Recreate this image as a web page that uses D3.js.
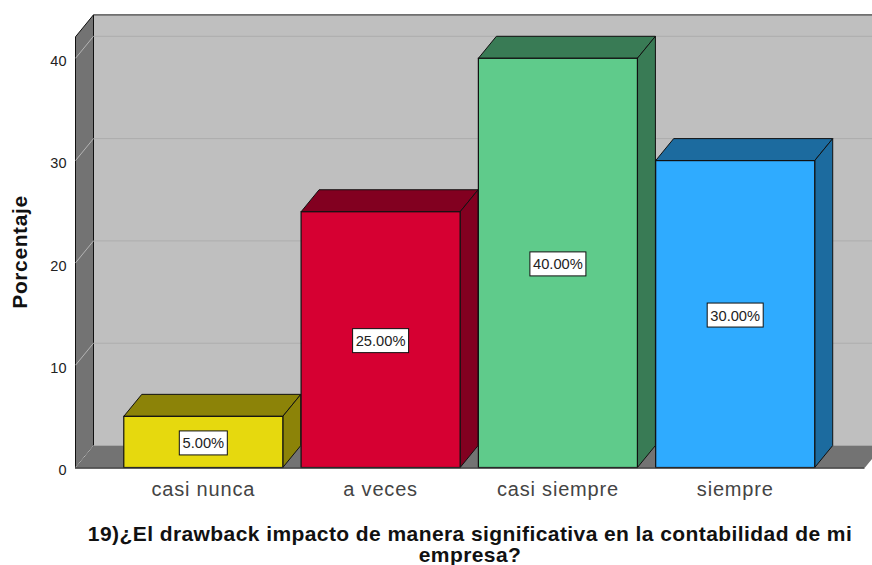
<!DOCTYPE html>
<html>
<head>
<meta charset="utf-8">
<script src="https://cdn.jsdelivr.net/npm/d3@7"></script>
<style>
  html, body { margin: 0; padding: 0; background: #fff; overflow: hidden; }
  svg { display: block; }
  text { font-family: "Liberation Sans", Arial, sans-serif; }
</style>
</head>
<body>
<div id="chart"></div>
<script>
// Values
const categories = ["casi nunca", "a veces", "casi siempre", "siempre"];
const percentages = [5, 25, 40, 30];
const barLabels = ["5.00%", "25.00%", "40.00%", "30.00%"];
const yTicks = [0, 10, 20, 30, 40];
const yTop = 42.1;   // top of the box, in axis units
const xTitle = ["19)¿El drawback impacto de manera significativa en la contabilidad de mi", "empresa?"];
const yTitle = "Porcentaje";

const frontColors = ["#e6d90e", "#d60032", "#5fcb8b", "#2fabff"];
const darkColors = ["#8c8308", "#820020", "#397b55", "#1c6b9f"];

const width = 872, height = 565;
const depthX = 18, depthY = -22;   // 3D offset of the box
const plotLeft = 75.5, plotRight = 865, plotBottom = 467.5;

const svg = d3.select("#chart").append("svg")
  .attr("width", width)
  .attr("height", height);

// bars start a pixel left of where the walls would put them
const xScale = d3.scaleBand()
  .domain(categories)
  .range([plotLeft - 1, plotRight - 1])
  .paddingInner(0.103)
  .paddingOuter(0.278);

const yScale = d3.scaleLinear()
  .domain([0, 40])
  .range([plotBottom, 58.3]);

const poly = pts => pts.map(p => p.join(",")).join(" ");

// Back wall
svg.append("rect")
  .attr("x", plotLeft + depthX)
  .attr("y", yScale(yTop) + depthY)
  .attr("width", plotRight - plotLeft)
  .attr("height", plotBottom - yScale(yTop))
  .attr("fill", "#bfbfbf");

svg.append("line")
  .attr("x1", plotLeft + depthX).attr("x2", width)
  .attr("y1", yScale(yTop) + depthY).attr("y2", yScale(yTop) + depthY)
  .attr("stroke", "#444").attr("stroke-width", 1.2);

// Floor
svg.append("polygon")
  .attr("points", poly([
    [plotLeft, plotBottom], [plotRight, plotBottom],
    [plotRight + depthX, plotBottom + depthY], [plotLeft + depthX, plotBottom + depthY]
  ]))
  .attr("fill", "#737373");

// Left wall
svg.append("polygon")
  .attr("points", poly([
    [plotLeft, plotBottom], [plotLeft, yScale(yTop)],
    [plotLeft + depthX, yScale(yTop) + depthY], [plotLeft + depthX, plotBottom + depthY]
  ]))
  .attr("fill", "#737373")
  .attr("stroke", "#111")
  .attr("stroke-width", 1);

// Grid lines on the back wall and the left wall
const gridTicks = yTicks.filter(d => d > 0);
svg.selectAll(".grid-back").data(gridTicks).enter().append("line")
  .attr("class", "grid-back")
  .attr("x1", plotLeft + depthX).attr("x2", width)
  .attr("y1", d => yScale(d) + depthY).attr("y2", d => yScale(d) + depthY)
  .attr("stroke", "#adadad").attr("stroke-width", 1);

svg.selectAll(".grid-side").data(yTicks).enter().append("line")
  .attr("class", "grid-side")
  .attr("x1", plotLeft).attr("x2", plotLeft + depthX)
  .attr("y1", d => yScale(d)).attr("y2", d => yScale(d) + depthY)
  .attr("stroke", "#b4b4b4").attr("stroke-width", 1);

// Bars, left to right so each one covers the side of the previous one
const bars = svg.selectAll(".bar")
  .data(categories)
  .enter().append("g")
  .attr("class", "bar");

bars.append("polygon")
  .attr("points", (d, i) => {
    const x1 = xScale(d), x2 = x1 + xScale.bandwidth(), y = yScale(percentages[i]);
    return poly([[x1, y], [x2, y], [x2 + depthX, y + depthY], [x1 + depthX, y + depthY]]);
  })
  .attr("fill", (d, i) => darkColors[i])
  .attr("stroke", "#111").attr("stroke-width", 1);

bars.append("polygon")
  .attr("points", (d, i) => {
    const x2 = xScale(d) + xScale.bandwidth(), y = yScale(percentages[i]);
    return poly([[x2, y], [x2 + depthX, y + depthY], [x2 + depthX, plotBottom + depthY], [x2, plotBottom]]);
  })
  .attr("fill", (d, i) => darkColors[i])
  .attr("stroke", "#111").attr("stroke-width", 1);

bars.append("rect")
  .attr("x", d => xScale(d))
  .attr("y", (d, i) => yScale(percentages[i]))
  .attr("width", xScale.bandwidth())
  .attr("height", (d, i) => plotBottom - yScale(percentages[i]))
  .attr("fill", (d, i) => frontColors[i])
  .attr("stroke", "#111").attr("stroke-width", 1.2);

// Value labels sit at the middle of each bar
const labels = svg.selectAll(".value-label")
  .data(categories)
  .enter().append("g")
  .attr("class", "value-label")
  .attr("transform", (d, i) =>
    `translate(${xScale(d) + xScale.bandwidth() / 2},${yScale(percentages[i] / 2) + 1})`);

labels.append("rect")
  .attr("x", (d, i) => i === 0 ? -24 : -28)
  .attr("y", -12)
  .attr("width", (d, i) => i === 0 ? 48 : 56)
  .attr("height", 24)
  .attr("fill", "#fff")
  .attr("stroke", "#111");

labels.append("text")
  .attr("text-anchor", "middle")
  .attr("y", 5.5)
  .attr("font-size", 14.7)
  .attr("fill", "#222")
  .text((d, i) => barLabels[i]);

// Axes
const xAxis = d3.axisBottom(xScale).tickSize(0).tickPadding(14);
const xAxisGroup = svg.append("g")
  .attr("transform", `translate(0,${plotBottom})`)
  .call(xAxis);
xAxisGroup.select(".domain").attr("stroke", "#333").attr("stroke-width", 1.5);
xAxisGroup.selectAll("text")
  .attr("font-size", 20)
  .attr("letter-spacing", 0.8)
  .attr("fill", "#444")
  .style("font-family", "'Liberation Sans', Arial, sans-serif");

const yAxis = d3.axisLeft(yScale).tickValues(yTicks).tickSize(0).tickPadding(9);
const yAxisGroup = svg.append("g")
  .attr("transform", `translate(${plotLeft},0)`)
  .call(yAxis);
yAxisGroup.select(".domain").remove();
yAxisGroup.selectAll("text")
  .attr("font-size", 14.5)
  .attr("dy", "0.5em")
  .attr("fill", "#222")
  .style("font-family", "'Liberation Sans', Arial, sans-serif");

// Titles
svg.append("text")
  .attr("transform", "translate(27,252) rotate(-90)")
  .attr("text-anchor", "middle")
  .attr("font-size", 21)
  .attr("letter-spacing", 0.6)
  .attr("font-weight", "bold")
  .attr("fill", "#111")
  .text(yTitle);

svg.selectAll(".x-title").data(xTitle).enter().append("text")
  .attr("class", "x-title")
  .attr("x", 470)
  .attr("y", (d, i) => 541 + i * 21)
  .attr("text-anchor", "middle")
  .attr("font-size", 21)
  .attr("letter-spacing", 0.42)
  .attr("font-weight", "bold")
  .attr("fill", "#111")
  .text(d => d);
</script>
</body>
</html>
